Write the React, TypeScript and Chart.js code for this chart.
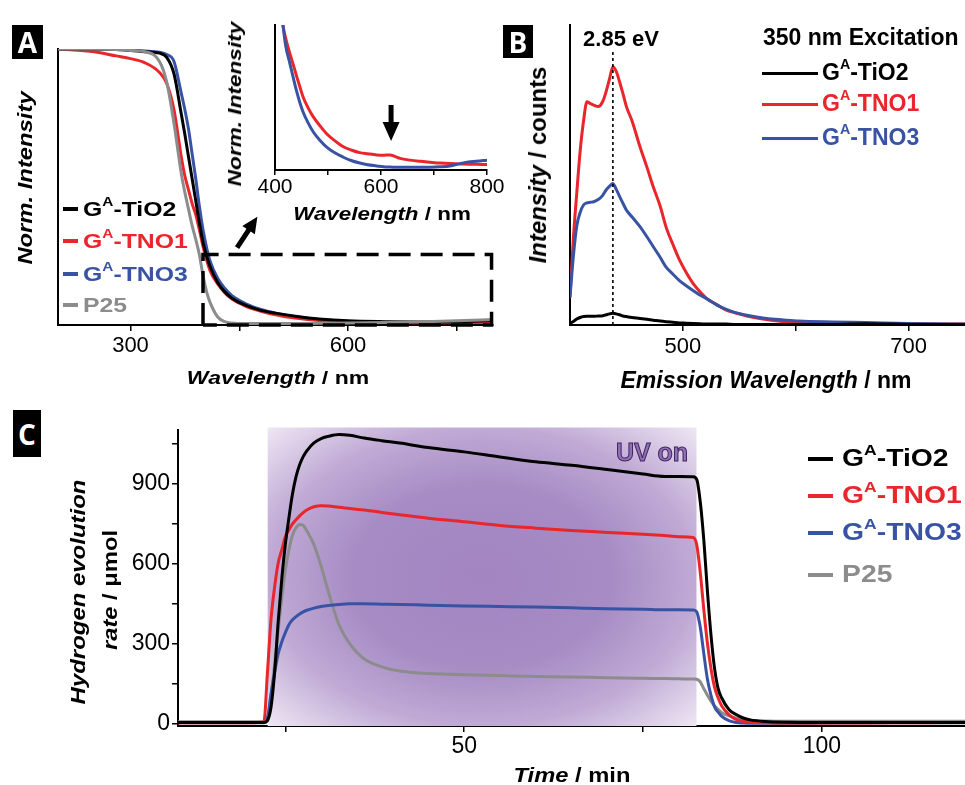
import React, { useEffect, useRef } from 'react';
import { Chart, registerables } from 'chart.js';

Chart.register(...registerables);

const FONT = '"Liberation Sans", Arial, Helvetica, sans-serif';
const BOX_FONT = '"Open Sans", "Liberation Sans", Arial, sans-serif';

// ---------------- series names / colours ----------------
const seriesNames = ['G^A-TiO2', 'G^A-TNO1', 'G^A-TNO3', 'P25'];
const seriesColors = ['#000000', '#e8262b', '#3953a4', '#8c8c8c'];

// ---------------- Panel A : normalised absorbance ----------------
const absWavelength = [200, 250, 280, 300, 320, 340, 350, 360, 370, 375, 380, 385, 390, 395, 400, 405, 410, 420, 430, 440, 460, 480, 500, 530, 560, 600, 650, 700, 750, 800];
const absTiO2 = [1.0, 1.0, 0.998, 0.995, 0.99, 0.985, 0.97, 0.91, 0.765, 0.69, 0.61, 0.53, 0.45, 0.37, 0.3, 0.25, 0.21, 0.155, 0.12, 0.097, 0.07, 0.053, 0.043, 0.031, 0.022, 0.015, 0.012, 0.011, 0.012, 0.016];
const absTNO1 = [1.0, 0.99, 0.975, 0.965, 0.95, 0.915, 0.875, 0.78, 0.61, 0.54, 0.49, 0.44, 0.4, 0.345, 0.285, 0.235, 0.195, 0.15, 0.117, 0.094, 0.067, 0.05, 0.037, 0.024, 0.016, 0.011, 0.009, 0.008, 0.009, 0.01];
const absTNO3 = [1.0, 1.0, 0.998, 0.996, 0.993, 0.988, 0.98, 0.955, 0.84, 0.78, 0.71, 0.62, 0.53, 0.43, 0.345, 0.28, 0.23, 0.17, 0.133, 0.106, 0.076, 0.056, 0.043, 0.029, 0.02, 0.013, 0.01, 0.009, 0.01, 0.014];
const absP25 = [1.0, 1.0, 0.998, 0.995, 0.99, 0.955, 0.88, 0.73, 0.55, 0.48, 0.42, 0.36, 0.31, 0.255, 0.18, 0.12, 0.08, 0.03, 0.012, 0.007, 0.005, 0.005, 0.005, 0.005, 0.006, 0.007, 0.009, 0.012, 0.015, 0.02];
const absTicks = [300, 450, 600, 750];
const absTickLabels = [300, 600];
const zoomBox = { x0: 400, x1: 798, y0: 0, y1: 0.255 };
const absArrow = { x0: 447, y0: 0.28, x1: 475, y1: 0.392 };

// ---------------- Panel A inset ----------------
const insetWavelength = [410, 415, 420, 428, 435, 441, 447, 453, 462, 472, 485, 497, 512, 529, 545, 560, 575, 592, 605, 617, 627, 636, 655, 674, 692, 711, 730, 749, 765, 780, 800];
const insetTNO1 = [0.3, 0.25, 0.228, 0.201, 0.18, 0.161, 0.143, 0.126, 0.108, 0.092, 0.076, 0.063, 0.051, 0.04, 0.034, 0.03, 0.028, 0.026, 0.0255, 0.026, 0.023, 0.02, 0.017, 0.015, 0.0135, 0.012, 0.011, 0.0105, 0.01, 0.0098, 0.0095];
const insetTNO3 = [0.29, 0.25, 0.215, 0.184, 0.157, 0.135, 0.116, 0.1, 0.082, 0.066, 0.051, 0.04, 0.03, 0.022, 0.016, 0.012, 0.009, 0.007, 0.0055, 0.005, 0.0048, 0.0046, 0.0046, 0.0046, 0.0048, 0.0055, 0.007, 0.011, 0.014, 0.015, 0.017];
const insetTicks = [400, 500, 600, 700, 800];
const insetTickLabels = [400, 600, 800];
const insetArrow = { x: 619, yTop: 0.112, yTip: 0.05 };

// ---------------- Panel B : photoluminescence ----------------
const plWavelength = [400, 403, 406, 409, 412, 415, 418, 421, 425, 429, 432, 435, 438, 441, 444, 447, 450, 455, 462, 468, 474, 480, 485, 491, 497, 503, 509, 515, 521, 530, 538, 545, 559, 574, 589, 603, 633, 662, 700, 750];
const plTiO2 = [6, 12, 20, 25, 28, 29, 29, 29, 30, 31, 34, 37, 39, 37, 34, 30, 28, 25, 22, 19, 16, 13, 11, 9, 7, 6, 5, 4, 3, 3, 3, 2, 2, 2, 2, 2, 2, 4, 2, 1];
const plTNO1 = [94, 290, 440, 580, 680, 744, 738, 733, 728, 745, 778, 820, 861, 845, 810, 770, 728, 680, 594, 528, 458, 395, 328, 270, 217, 175, 139, 112, 89, 68, 50, 42, 28, 18, 11, 9, 6, 5, 4, 3];
const plTNO3 = [94, 230, 330, 375, 400, 407, 409, 411, 418, 432, 450, 462, 472, 452, 428, 405, 383, 360, 328, 295, 260, 225, 194, 170, 148, 131, 115, 100, 88, 67, 53, 43, 31, 22, 17, 13, 10, 8, 5, 3];
const plTicks = [500, 600, 700];
const plTickLabels = [500, 700];
const peakLine = { x: 438, top: 911 };

// ---------------- Panel C : hydrogen evolution ----------------
const h2Time = [10, 20, 22, 22.5, 23, 23.5, 24, 24.5, 25, 25.5, 26, 26.5, 27, 27.5, 28, 29, 30, 31, 32.5, 34, 36, 38.5, 41, 45, 50, 55, 60, 65, 70, 75, 78, 80, 82, 82.5, 83, 83.5, 84, 84.5, 85, 85.5, 86, 87, 88, 89, 90, 92, 95, 100, 110, 120];
const h2TiO2 = [3, 3, 3, 10, 60, 190, 380, 540, 670, 770, 860, 925, 970, 1000, 1022, 1052, 1068, 1076, 1083, 1080, 1070, 1060, 1051, 1034, 1018, 999, 981, 968, 952, 935, 926, 926, 925, 915, 830, 685, 495, 330, 205, 130, 95, 52, 33, 20, 13, 7, 4, 3, 3, 3];
const h2TNO1 = [2, 2, 5, 190, 390, 510, 600, 650, 700, 725, 748, 763, 778, 790, 800, 812, 816, 815, 810, 806, 800, 791, 782, 769, 756, 742, 732, 723, 716, 709, 704, 700, 697, 670, 565, 425, 300, 205, 135, 95, 65, 33, 15, 8, 4, 2, 1, 1, 2, 3];
const h2TNO3 = [2, 2, 2, 20, 110, 190, 260, 305, 340, 370, 388, 400, 410, 418, 424, 432, 438, 442, 446, 448, 448, 447, 446, 443, 440, 438, 436, 433, 430, 428, 426, 426, 425, 418, 360, 260, 165, 105, 62, 42, 26, 10, 3, 1, 0, 0, 0, 1, 2, 2];
const h2P25 = [6, 6, 6, 20, 100, 220, 350, 470, 575, 650, 705, 733, 746, 742, 722, 670, 590, 495, 370, 299, 242, 212, 196, 187, 182, 179, 176, 174, 171, 169, 168, 167, 166, 165, 155, 130, 105, 83, 65, 52, 40, 28, 20, 14, 11, 9, 8, 8, 8, 8];
const h2XTicks = [25, 50, 75, 100];
const h2XTickLabels = [50, 100];
const h2YTicks = [0, 150, 300, 450, 600, 750, 900, 1050];
const h2YTickLabels = [0, 300, 600, 900];
const uvWindow = { start: 22.5, end: 82.5, top: 1110 };

// ---------------- helpers ----------------
const pts = (xs: number[], ys: number[]) => xs.map((x, i) => ({ x, y: ys[i] }));

function lineDs(label: string, xs: number[], ys: number[], color: string, width: number) {
  return {
    label,
    data: pts(xs, ys),
    borderColor: color,
    backgroundColor: color,
    borderWidth: width,
    pointRadius: 0,
    pointHoverRadius: 0,
    fill: false,
    cubicInterpolationMode: 'monotone',
  };
}

function tickAxis(min: number, max: number, ticks: number[], labels: number[], size: number, pad: number, tickLen: number, fitSize: number, horizontal: boolean) {
  return {
    type: 'linear',
    min,
    max,
    afterBuildTicks: (a: any) => {
      a.ticks = ticks.map((v) => ({ value: v }));
    },
    afterFit: (a: any) => {
      if (horizontal) a.height = fitSize;
      else a.width = fitSize;
    },
    ticks: {
      autoSkip: false,
      maxRotation: 0,
      minRotation: 0,
      padding: pad,
      color: '#000',
      font: { family: FONT, size },
      callback: (v: any) => (labels.includes(Number(v)) ? String(v) : ''),
    },
    grid: { display: true, drawOnChartArea: false, drawTicks: true, tickLength: tickLen, color: '#000', lineWidth: 1.5 },
    border: { display: true, color: '#000', width: 2 },
  };
}

function bareY(min: number, max: number, width: number) {
  return {
    type: 'linear',
    min,
    max,
    ticks: { display: false },
    grid: { display: false },
    border: { display: true, color: '#000', width: 2 },
    afterFit: (a: any) => {
      a.width = width;
    },
  };
}

function baseOptions(padding: any, scales: any) {
  return {
    responsive: false,
    animation: false,
    devicePixelRatio: 1,
    events: [],
    layout: { padding },
    plugins: { legend: { display: false }, tooltip: { enabled: false } },
    elements: { line: { borderCapStyle: 'round', borderJoinStyle: 'round' } },
    scales,
  };
}

function drawArrow(ctx: CanvasRenderingContext2D, x0: number, y0: number, x1: number, y1: number, shaft: number, headW: number, headL: number) {
  const ang = Math.atan2(y1 - y0, x1 - x0);
  const len = Math.hypot(x1 - x0, y1 - y0);
  ctx.save();
  ctx.translate(x0, y0);
  ctx.rotate(ang);
  ctx.fillStyle = '#000';
  ctx.beginPath();
  ctx.moveTo(0, -shaft / 2);
  ctx.lineTo(len - headL, -shaft / 2);
  ctx.lineTo(len - headL, -headW / 2);
  ctx.lineTo(len, 0);
  ctx.lineTo(len - headL, headW / 2);
  ctx.lineTo(len - headL, shaft / 2);
  ctx.lineTo(0, shaft / 2);
  ctx.closePath();
  ctx.fill();
  ctx.restore();
}

// ---------------- plugins ----------------
const absAnnotations = {
  id: 'absAnnotations',
  afterDatasetsDraw(chart: any) {
    const { ctx, scales } = chart;
    const x = scales.x;
    const y = scales.y;
    const l = x.getPixelForValue(zoomBox.x0);
    const r = x.getPixelForValue(zoomBox.x1);
    const t = y.getPixelForValue(zoomBox.y1);
    const b = y.getPixelForValue(zoomBox.y0);
    ctx.save();
    ctx.strokeStyle = '#000';
    ctx.lineWidth = 3.5;
    ctx.setLineDash([22, 10]);
    ctx.beginPath();
    ctx.moveTo(l, b);
    ctx.lineTo(l, t);
    ctx.lineTo(r, t);
    ctx.lineTo(r, b);
    ctx.lineTo(l, b);
    ctx.stroke();
    ctx.restore();
    drawArrow(ctx, x.getPixelForValue(absArrow.x0), y.getPixelForValue(absArrow.y0), x.getPixelForValue(absArrow.x1), y.getPixelForValue(absArrow.y1), 5, 15, 16);
  },
};

const insetAnnotations = {
  id: 'insetAnnotations',
  afterDatasetsDraw(chart: any) {
    const { ctx, scales } = chart;
    const px = scales.x.getPixelForValue(insetArrow.x);
    drawArrow(ctx, px, scales.y.getPixelForValue(insetArrow.yTop), px, scales.y.getPixelForValue(insetArrow.yTip), 5, 17, 19);
  },
};

const peakMarker = {
  id: 'peakMarker',
  afterDatasetsDraw(chart: any) {
    const { ctx, scales } = chart;
    const px = scales.x.getPixelForValue(peakLine.x);
    ctx.save();
    ctx.strokeStyle = '#000';
    ctx.lineWidth = 1.6;
    ctx.setLineDash([3, 3]);
    ctx.beginPath();
    ctx.moveTo(px, scales.y.getPixelForValue(0));
    ctx.lineTo(px, scales.y.getPixelForValue(peakLine.top));
    ctx.stroke();
    ctx.restore();
  },
};

const uvShade = {
  id: 'uvShade',
  beforeDatasetsDraw(chart: any) {
    const { ctx, scales } = chart;
    const x0 = scales.x.getPixelForValue(uvWindow.start);
    const x1 = scales.x.getPixelForValue(uvWindow.end);
    const y0 = scales.y.getPixelForValue(uvWindow.top);
    const y1 = scales.y.getPixelForValue(scales.y.min);
    const rx = (x1 - x0) / 2;
    const ry = (y1 - y0) / 2;
    const cx = x0 + rx;
    const cy = y0 + ry;
    ctx.save();
    ctx.beginPath();
    ctx.rect(x0, y0, x1 - x0, y1 - y0);
    ctx.clip();
    ctx.translate(cx, cy);
    ctx.scale(1, ry / rx);
    const g = ctx.createRadialGradient(0, 0, 0, 0, 0, rx * 1.42);
    g.addColorStop(0, '#a285c1');
    g.addColorStop(0.42, '#a68bc4');
    g.addColorStop(0.7, '#c0aad5');
    g.addColorStop(1, '#efe8f4');
    ctx.fillStyle = g;
    ctx.fillRect(-rx, -rx, 2 * rx, 2 * rx);
    ctx.restore();
  },
};

// ---------------- chart configs ----------------
function makeAbs() {
  const series = [absTiO2, absTNO1, absTNO3, absP25];
  return {
    type: 'line',
    data: {
      datasets: [3, 0, 1, 2].map((i) => lineDs(seriesNames[i], absWavelength, series[i], seriesColors[i], 3)),
    },
    options: baseOptions({ top: 29, right: 7, left: 0, bottom: 0 }, {
      x: tickAxis(200, 800, absTicks, absTickLabels, 22, 2, 6, 75, true),
      y: bareY(0, 1, 58),
    }),
    plugins: [absAnnotations],
  };
}

function makeInset() {
  return {
    type: 'line',
    data: {
      datasets: [
        lineDs(seriesNames[2], insetWavelength, insetTNO3, seriesColors[2], 3),
        lineDs(seriesNames[1], insetWavelength, insetTNO1, seriesColors[1], 3),
      ],
    },
    options: baseOptions({ top: 5, right: 28, left: 0, bottom: 0 }, {
      x: tickAxis(400, 800, insetTicks, insetTickLabels, 21, 0, 5, 30, true),
      y: bareY(0, 0.25, 60),
    }),
    plugins: [insetAnnotations],
  };
}

function makePL() {
  const series = [plTiO2, plTNO1, plTNO3];
  return {
    type: 'line',
    data: {
      datasets: [0, 2, 1].map((i) => lineDs(seriesNames[i], plWavelength, series[i], seriesColors[i], 3)),
    },
    options: baseOptions({ top: 5, right: 0, left: 0, bottom: 0 }, {
      x: tickAxis(400, 750, plTicks, plTickLabels, 22, 3, 6, 75, true),
      y: bareY(0, 1000, 70),
    }),
    plugins: [peakMarker],
  };
}

function makeH2() {
  const series = [h2TiO2, h2TNO1, h2TNO3, h2P25];
  return {
    type: 'line',
    data: {
      datasets: [0, 1, 2, 3].map((i) => lineDs(seriesNames[i], h2Time, series[i], seriesColors[i], 3)),
    },
    options: baseOptions({ top: 30, right: 0, left: 0, bottom: 0 }, {
      x: tickAxis(10, 120, h2XTicks, h2XTickLabels, 23, 1, 6, 59, true),
      y: tickAxis(-10, 1100, h2YTicks, h2YTickLabels, 23, 2, 6, 178, false),
    }),
    plugins: [uvShade],
  };
}

// ---------------- components ----------------
function ChartCanvas({ left, top, width, height, make }: { left: number; top: number; width: number; height: number; make: () => any }) {
  const ref = useRef<HTMLCanvasElement>(null);
  useEffect(() => {
    const chart = new Chart(ref.current as HTMLCanvasElement, make());
    return () => chart.destroy();
  }, []);
  return <canvas ref={ref} width={width} height={height} style={{ position: 'absolute', left, top, width, height, display: 'block' }} />;
}

function Txt({ x, y, size, sx = 1, rot = 0, anchor = 'center', color = '#000', italic = false, weight = 700, children, extra }: any) {
  const tx = anchor === 'center' ? '-50%' : anchor === 'left' ? '0' : '-100%';
  return (
    <div style={{ position: 'absolute', left: x, top: y, width: 0, height: 0, transform: `rotate(${rot}deg) scaleX(${sx})`, transformOrigin: '0 0' }}>
      <span
        style={{
          position: 'absolute',
          left: 0,
          top: 0,
          transform: `translate(${tx},-50%)`,
          whiteSpace: 'nowrap',
          fontSize: size,
          fontWeight: weight,
          fontStyle: italic ? 'italic' : 'normal',
          color,
          fontFamily: FONT,
          lineHeight: 1,
          ...(extra || {}),
        }}
      >
        {children}
      </span>
    </div>
  );
}

function Name({ name }: { name: string }) {
  if (name.startsWith('G^A')) {
    return (
      <>
        G<span style={{ fontSize: '0.62em', position: 'relative', top: '-0.75em' }}>A</span>
        {name.slice(3)}
      </>
    );
  }
  return <>{name}</>;
}

function Box({ left, top, w, h, letter }: any) {
  return (
    <div
      style={{
        position: 'absolute',
        left,
        top,
        width: w,
        height: h,
        background: '#000',
        color: '#fff',
        display: 'flex',
        alignItems: 'center',
        justifyContent: 'center',
        fontFamily: BOX_FONT,
        fontWeight: 700,
        fontSize: 28,
        lineHeight: 1,
      }}
    >
      {letter}
    </div>
  );
}

function Legend({ rows, idx, lineLeft, lineW, lineH, textLeft, size, sx }: any) {
  return (
    <>
      {idx.map((i: number, k: number) => (
        <React.Fragment key={i}>
          <div style={{ position: 'absolute', left: lineLeft, top: rows[k] + 1 - lineH / 2, width: lineW, height: lineH, background: seriesColors[i] }} />
          <Txt x={textLeft} y={rows[k]} size={size} sx={sx} anchor="left" color={seriesColors[i]}>
            <Name name={seriesNames[i]} />
          </Txt>
        </React.Fragment>
      ))}
    </>
  );
}

export default function App() {
  return (
    <div style={{ position: 'absolute', left: 0, top: 0, width: 965, height: 785, background: '#fff', overflow: 'hidden', fontFamily: FONT }}>
      <ChartCanvas left={0} top={20} width={500} height={380} make={makeAbs} />
      <ChartCanvas left={500} top={20} width={465} height={380} make={makePL} />
      <ChartCanvas left={215} top={20} width={300} height={180} make={makeInset} />
      <ChartCanvas left={0} top={400} width={965} height={385} make={makeH2} />

      {/* Panel A */}
      <Box left={12} top={25} w={31} h={34} letter="A" />
      <Txt x={25} y={178} size={20} sx={1.19} rot={-90} italic>Norm. Intensity</Txt>
      <Txt x={278} y={377} size={19} sx={1.21}>
        <i>Wavelength</i> / nm
      </Txt>
      <Txt x={234} y={104} size={19} sx={1.19} rot={-90} italic>Norm. Intensity</Txt>
      <Txt x={382} y={213} size={19} sx={1.18}>
        <i>Wavelength</i> / nm
      </Txt>
      <Legend rows={[208, 240, 273, 304]} idx={[0, 1, 2, 3]} lineLeft={63} lineW={15} lineH={4} textLeft={83} size={21} sx={1.18} />

      {/* Panel B */}
      <Box left={503} top={25} w={30} h={33} letter="B" />
      <Txt x={621} y={39} size={22}>2.85 eV</Txt>
      <Txt x={763} y={37} size={23} anchor="left">350 nm Excitation</Txt>
      <Legend rows={[72, 103, 137]} idx={[0, 1, 2]} lineLeft={762} lineW={56} lineH={3} textLeft={822} size={23} sx={1} />
      <Txt x={538} y={165} size={23} sx={1.04} rot={-90}>
        <i>Intensity</i> / counts
      </Txt>
      <Txt x={766} y={380} size={23}>
        <i>Emission Wavelength</i> / nm
      </Txt>

      {/* Panel C */}
      <Box left={13} top={410} w={28} h={47} letter="C" />
      <Txt x={77} y={592} size={21} sx={1.14} rot={-90} italic>Hydrogen evolution</Txt>
      <Txt x={109} y={590} size={21} sx={1.13} rot={-90}>
        <i>rate</i> / μmol
      </Txt>
      <Txt x={572} y={774} size={21} sx={1.13}>
        <i>Time</i> / min
      </Txt>
      <Txt x={652} y={452} size={25} color="#8f6fb6" extra={{ WebkitTextStroke: '1px #42255e' }}>UV on</Txt>
      <Legend rows={[458, 495, 532, 574]} idx={[0, 1, 2, 3]} lineLeft={808} lineW={25} lineH={4} textLeft={842} size={24} sx={1.18} />
    </div>
  );
}
